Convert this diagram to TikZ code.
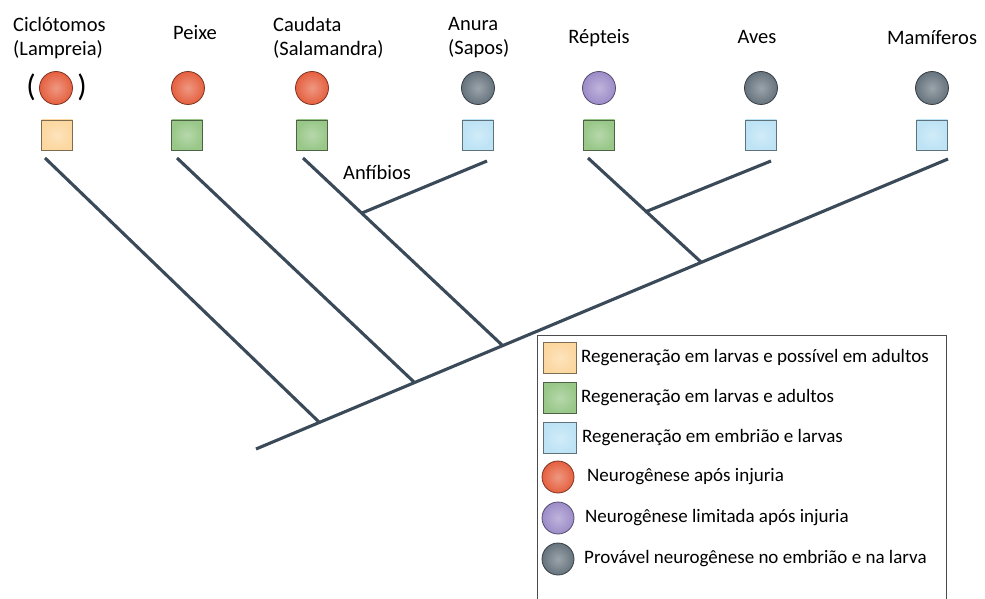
\documentclass[tikz,border=0pt]{standalone}
\usepackage{fontspec}
\setmainfont{Carlito}

\definecolor{linha}{HTML}{3B4A59}
\definecolor{laranja}{HTML}{FCD7A0}
\definecolor{verde}{HTML}{98C788}
\definecolor{azul}{HTML}{BDE3F5}
\definecolor{vermelho}{HTML}{E5603F}
\definecolor{roxo}{HTML}{9C8CC8}
\definecolor{cinza}{HTML}{66737D}

\begin{document}
\begin{tikzpicture}[x=1pt,y=-1pt,
    ramo/.style={draw=linha, line width=3.1pt},
    quad/.style={draw=#1!50!black, inner color=#1!70!white, outer color=#1,
        minimum width=31pt, minimum height=30pt, inner sep=0pt, line width=0.8pt},
    bola/.style={circle, draw=#1!55!black, inner color=#1!65!white, outer color=#1,
        minimum size=33pt, inner sep=0pt, line width=0.8pt},
    rotulo/.style={font=\fontsize{20.5}{24}\selectfont, align=left, inner sep=0pt},
    legenda/.style={font=\fontsize{19}{22}\selectfont, anchor=west, inner sep=0pt}
]
    \useasboundingbox (0,0) rectangle (985,599);

    % nomes dos grupos
    \node[rotulo, anchor=west] (tciclo) at (13,38) {Ciclótomos\\(Lampreia)};
    \node[rotulo] (tpeixe) at (195,33) {Peixe};
    \node[rotulo, anchor=west] (tcauda) at (273,38) {Caudata\\(Salamandra)};
    \node[rotulo, anchor=west] (tanura) at (448,38) {Anura\\(Sapos)};
    \node[rotulo] (trept) at (599,38) {Répteis};
    \node[rotulo] (taves) at (757,37) {Aves};
    \node[rotulo] (tmami) at (932,38) {Mamíferos};

    % neurogenese (bolas)
    \node[bola=vermelho] (bciclo) at (56,88) {};
    \node[font=\fontsize{31}{31}\selectfont, inner sep=0pt] (pesq) at (31,87) {(};
    \node[font=\fontsize{31}{31}\selectfont, inner sep=0pt] (pdir) at (82,87) {)};
    \node[bola=vermelho] (bpeixe) at (188,88) {};
    \node[bola=vermelho] (bcauda) at (312,88) {};
    \node[bola=cinza] (banura) at (478,88) {};
    \node[bola=roxo] (brept) at (599,88) {};
    \node[bola=cinza] (baves) at (761,88) {};
    \node[bola=cinza] (bmami) at (932,88) {};

    % regeneracao (quadrados)
    \node[quad=laranja] (qciclo) at (57,135) {};
    \node[quad=verde] (qpeixe) at (187,135) {};
    \node[quad=verde] (qcauda) at (312,135) {};
    \node[quad=azul] (qanura) at (478,135) {};
    \node[quad=verde] (qrept) at (599,135) {};
    \node[quad=azul] (qaves) at (761,135) {};
    \node[quad=azul] (qmami) at (932,135) {};

    % arvore
    \coordinate (raiz) at (256,449);
    \coordinate (fmami) at (948,159);
    \coordinate (fciclo) at (45,158);
    \coordinate (nciclo) at (319,422);
    \coordinate (fpeixe) at (177,158);
    \coordinate (npeixe) at (414,382);
    \coordinate (fcauda) at (303,158);
    \coordinate (ncauda) at (502,345);
    \coordinate (fanura) at (487,161);
    \coordinate (nanfi) at (362,213);
    \coordinate (frept) at (588,158);
    \coordinate (nrept) at (701,262);
    \coordinate (faves) at (771,161);
    \coordinate (naves) at (645,212);

    \draw[ramo] (raiz) -- (fmami);
    \draw[ramo] (fciclo) -- (nciclo);
    \draw[ramo] (fpeixe) -- (npeixe);
    \draw[ramo] (fcauda) -- (ncauda);
    \draw[ramo] (fanura) -- (nanfi);
    \draw[ramo] (frept) -- (nrept);
    \draw[ramo] (faves) -- (naves);

    \node[rotulo] (tanfi) at (377,172) {Anfíbios};

    % legenda
    \draw[line width=0.8pt, draw=black!70] (537,335) rectangle (946,610);
    \node[quad=laranja, minimum height=31pt, minimum width=33pt] (lq1) at (560,358) {};
    \node[quad=verde, minimum height=31pt, minimum width=33pt] (lq2) at (560,398) {};
    \node[quad=azul, minimum height=31pt, minimum width=33pt] (lq3) at (560,438) {};
    \node[bola=vermelho, minimum size=32pt] (lb1) at (558,477) {};
    \node[bola=roxo, minimum size=32pt] (lb2) at (558,518) {};
    \node[bola=cinza, minimum size=32pt] (lb3) at (558,559) {};
    \node[legenda] at (581,358) {Regeneração em larvas e possível em adultos};
    \node[legenda] at (581,398) {Regeneração em larvas e adultos};
    \node[legenda] at (582,438) {Regeneração em embrião e larvas};
    \node[legenda] at (587,477) {Neurogênese após injuria};
    \node[legenda] at (585,518) {Neurogênese limitada após injuria};
    \node[legenda] at (584,559) {Provável neurogênese no embrião e na larva};

\end{tikzpicture}
\end{document}
